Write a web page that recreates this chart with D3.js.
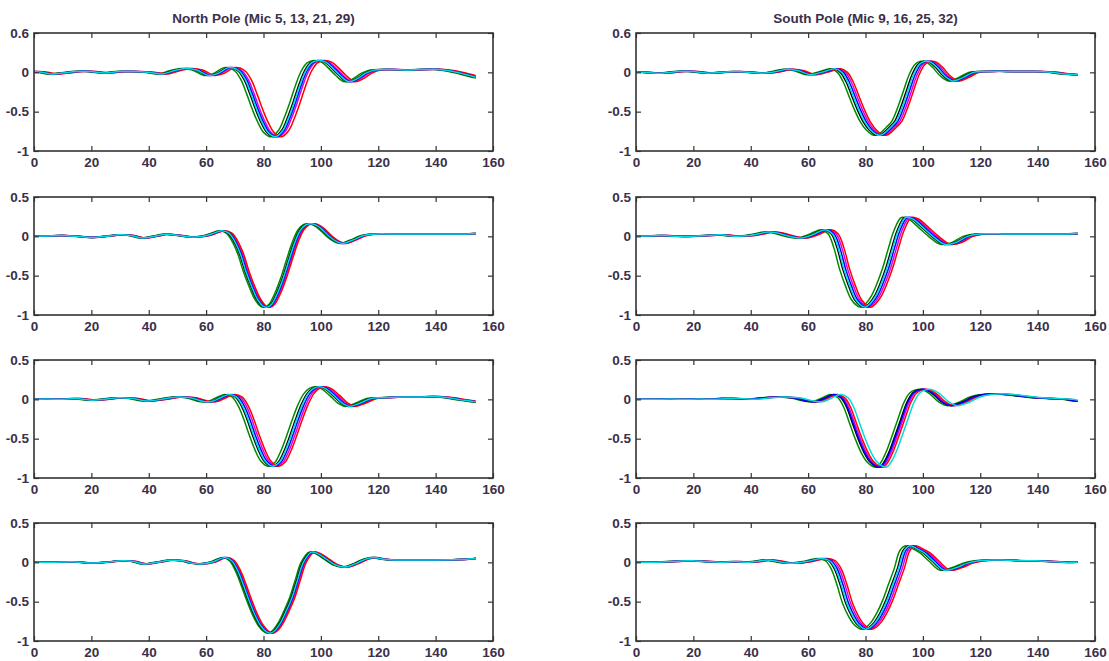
<!DOCTYPE html>
<html>
<head>
<meta charset="utf-8">
<script src="https://cdn.jsdelivr.net/npm/d3@7"></script>
<style>
  html, body { margin: 0; padding: 0; background: #ffffff; }
  svg { display: block; }
</style>
</head>
<body>
<svg id="chart" width="1109" height="661"></svg>
<script>
// ---------------- DATA ----------------
const northTitle = "North Pole (Mic 5, 13, 21, 29)";
const southTitle = "South Pole (Mic 9, 16, 25, 32)";

const xTickValues = [0, 20, 40, 60, 80, 100, 120, 140, 160];
const yTickValues = [0.5, 0, -0.5, -1];
const yTickLabelsTop = ["0.6", "0", "-0.5", "-1"];
const yTickLabels = ["0.5", "0", "-0.5", "-1"];

// trace colours (drawing order)
const traceColors = ["#008a00", "#000000", "#e000e0", "#ff0000", "#0000ff", "#00dcdc"];

// North pole, row 1
const n1X = [-4, 0, 3, 6, 10, 15, 20, 25, 30, 35, 40, 45, 49, 53, 57, 61, 64, 68, 70, 72, 74, 76, 78, 80, 82, 84.5, 87, 89, 91, 93, 95, 97, 99.5, 102, 104, 107, 110, 113, 116, 119, 125, 130, 135, 140, 145, 150, 154, 158];
const n1V = [0, 0.01, 0, -0.02, -0.01, 0.01, 0.01, -0.01, 0.01, 0.01, 0, -0.02, 0.02, 0.05, 0.03, -0.04, -0.02, 0.06, 0.055, 0.01, -0.1, -0.28, -0.48, -0.65, -0.77, -0.82, -0.74, -0.58, -0.38, -0.16, 0.02, 0.12, 0.15, 0.13, 0.07, -0.04, -0.12, -0.08, -0.01, 0.03, 0.035, 0.03, 0.035, 0.04, 0.02, -0.02, -0.06, -0.08];
const n1Delay = [-1.8, -0.7, 0.8, 1.8, 0.2, -0.3];

// North pole, row 2
const n2X = [-4, 0, 5, 10, 15, 20, 25, 30, 34, 38, 42, 46, 50, 55, 59, 62, 65.5, 68, 70, 72, 74, 76, 78, 80, 81.5, 83, 85, 87, 89, 91, 93, 95, 97, 99, 101, 104, 107.5, 111, 115, 120, 125, 130, 140, 150, 154, 158];
const n2V = [0, 0, 0.005, 0.01, 0.0, -0.015, 0.0, 0.02, 0.01, -0.02, 0.0, 0.025, 0.015, -0.01, 0.0, 0.03, 0.07, 0.04, -0.06, -0.22, -0.45, -0.64, -0.8, -0.89, -0.9, -0.86, -0.72, -0.53, -0.3, -0.08, 0.08, 0.15, 0.16, 0.13, 0.07, -0.03, -0.09, -0.05, 0.01, 0.03, 0.03, 0.03, 0.03, 0.03, 0.035, 0.035];
const n2Delay = [-1.0, -0.4, 0.6, 1.0, 0.2, -0.1];

// North pole, row 3
const n3X = [-4, 0, 5, 10, 15, 20, 25, 30, 35, 40, 45, 50, 55, 60, 63, 66, 68.5, 71, 73, 75, 77, 79, 81, 83.5, 86, 88, 90, 92, 94, 96, 98, 100, 102, 105, 108, 110.5, 114, 118, 122, 130, 135, 140, 145, 150, 154, 158];
const n3V = [0, 0, 0.005, 0.0, 0.01, -0.01, 0.0, 0.02, 0.01, -0.02, 0.0, 0.03, 0.02, -0.03, -0.02, 0.03, 0.06, 0.03, -0.07, -0.24, -0.45, -0.64, -0.78, -0.85, -0.8, -0.66, -0.47, -0.26, -0.07, 0.07, 0.14, 0.16, 0.14, 0.05, -0.05, -0.09, -0.05, 0.01, 0.02, 0.03, 0.03, 0.035, 0.02, -0.01, -0.03, -0.04];
const n3Delay = [-2.0, -0.9, 0.8, 1.5, 0.1, -0.5];

// North pole, row 4
const n4X = [-4, 0, 5, 10, 15, 20, 25, 31, 35, 38.5, 43, 47.5, 52, 55, 58, 62, 66.6, 69, 71, 73, 75, 77, 79, 81, 82.5, 84, 86, 88, 90, 92, 94, 96.8, 99, 102, 105, 108.4, 112, 115, 118.3, 122, 126, 130, 140, 148, 151, 154, 158];
const n4V = [0, 0, 0.0, 0.005, 0.005, -0.01, 0.0, 0.02, 0.01, -0.02, 0.0, 0.025, 0.02, -0.01, -0.02, 0.0, 0.06, 0.02, -0.1, -0.28, -0.48, -0.66, -0.8, -0.88, -0.9, -0.87, -0.77, -0.62, -0.45, -0.22, 0.0, 0.13, 0.11, 0.04, -0.03, -0.06, -0.02, 0.03, 0.06, 0.04, 0.03, 0.03, 0.03, 0.035, 0.04, 0.05, 0.06];
const n4Delay = [-0.9, -0.4, 0.5, 0.9, 0.15, -0.1];

// South pole, row 1
const s1X = [-4, 0, 5, 10, 15, 20, 25, 30, 35, 40, 45, 49, 53, 57, 61, 65, 69.7, 72, 74, 76, 78, 80, 82, 84, 85.5, 87, 89, 91, 93, 95, 97, 99, 101, 103, 105, 108, 110.8, 114, 118, 122, 126, 130, 135, 140, 145, 150, 154, 158];
const s1V = [0, 0.005, -0.005, -0.01, 0.01, 0.01, -0.01, 0.0, 0.01, 0.0, -0.01, 0.01, 0.04, 0.02, -0.03, 0.0, 0.045, 0.0, -0.12, -0.3, -0.48, -0.63, -0.73, -0.79, -0.8, -0.77, -0.7, -0.62, -0.45, -0.24, -0.03, 0.1, 0.14, 0.13, 0.07, -0.05, -0.11, -0.07, 0.0, 0.01, 0.015, 0.01, 0.01, 0.01, 0.0, -0.02, -0.03, -0.04];
const s1Delay = [-1.8, -0.8, 1.0, 1.7, 0.3, -0.3];

// South pole, row 2
const s2X = [-4, 0, 5, 10, 15, 20, 25, 30, 35, 40, 43, 46.7, 50, 54, 58.3, 62, 66.5, 69, 71, 73, 75, 77, 79, 80.5, 82, 84, 86, 88, 90, 92, 94.5, 97, 100, 104, 108, 112, 116, 120, 130, 140, 150, 154, 158];
const s2V = [0, 0, 0.005, 0.01, 0.0, 0.0, 0.01, 0.02, 0.0, 0.01, 0.03, 0.055, 0.04, 0.0, -0.02, 0.02, 0.085, 0.03, -0.15, -0.42, -0.63, -0.8, -0.88, -0.9, -0.86, -0.76, -0.6, -0.4, -0.15, 0.08, 0.24, 0.22, 0.13, 0.0, -0.1, -0.08, 0.0, 0.03, 0.03, 0.03, 0.03, 0.035, 0.04];
const s2Delay = [-2.0, -0.9, 0.8, 1.5, 0.1, -0.5];

// South pole, row 3
const s3X = [-4, 0, 5, 10, 15, 20, 25, 30, 35, 40, 45, 50, 55, 60, 63, 66, 69.5, 72, 74, 76, 78, 80, 82, 84, 85.5, 87, 89, 91, 93, 95, 97, 99, 101, 104, 107, 110, 114, 118, 122, 126, 130, 135, 140, 145, 150, 154, 158];
const s3V = [0, 0, 0.0, 0.005, 0.0, 0.005, 0.0, 0.01, 0.01, 0.0, 0.02, 0.03, 0.02, -0.02, -0.03, 0.01, 0.06, 0.02, -0.1, -0.3, -0.5, -0.67, -0.79, -0.85, -0.86, -0.8, -0.65, -0.45, -0.24, -0.04, 0.08, 0.12, 0.125, 0.07, -0.03, -0.08, -0.04, 0.03, 0.06, 0.07, 0.06, 0.04, 0.02, 0.01, 0.0, -0.02, -0.03];
const s3Delay = [-1.6, -0.6, 0.2, 0.8, -0.3, 1.9];

// South pole, row 4
const s4X = [-4, 0, 5, 10, 15, 20, 25, 30, 35, 40, 43, 46, 50, 53, 56, 60, 65.3, 68, 70, 72, 74, 76, 78, 80.5, 82, 84, 86, 88, 90, 92, 94, 96, 98, 101, 104, 108, 112, 116, 120, 125, 128, 135, 140, 145, 150, 154, 158];
const s4V = [0, 0, 0.0, 0.005, 0.015, 0.02, 0.01, 0.0, 0.01, 0.0, 0.015, 0.03, 0.01, -0.01, -0.01, 0.01, 0.05, 0.02, -0.08, -0.28, -0.52, -0.68, -0.79, -0.85, -0.83, -0.76, -0.64, -0.48, -0.28, -0.08, 0.15, 0.21, 0.18, 0.12, 0.02, -0.1, -0.07, -0.01, 0.02, 0.03, 0.03, 0.02, 0.02, 0.01, 0.0, 0.0, 0.0];
const s4Delay = [-2.0, -0.9, 0.8, 1.5, 0.1, -0.5];

// ---------------- LAYOUT ----------------
const colX = [34, 636];
const panelW = 459;
const rowTop = [33, 197, 360, 523];
const panelH = 118;
const xDomain = [0, 160];
const yDomain = [-1, 0.5];
const traceRange = [0, 154];

const textColor = "#3b2f4a";
const axisColor = "#333333";
const fontFamily = "'Liberation Sans', Arial, sans-serif";

const panels = [
  { col: 0, row: 0, xs: n1X, vs: n1V, delays: n1Delay },
  { col: 0, row: 1, xs: n2X, vs: n2V, delays: n2Delay },
  { col: 0, row: 2, xs: n3X, vs: n3V, delays: n3Delay },
  { col: 0, row: 3, xs: n4X, vs: n4V, delays: n4Delay },
  { col: 1, row: 0, xs: s1X, vs: s1V, delays: s1Delay },
  { col: 1, row: 1, xs: s2X, vs: s2V, delays: s2Delay },
  { col: 1, row: 2, xs: s3X, vs: s3V, delays: s3Delay },
  { col: 1, row: 3, xs: s4X, vs: s4V, delays: s4Delay }
];

const svg = d3.select("#chart");
const defs = svg.append("defs");

panels.forEach((p, i) => {
  const left = colX[p.col];
  const top = rowTop[p.row];
  const x = d3.scaleLinear().domain(xDomain).range([0, panelW]);
  const y = d3.scaleLinear().domain(yDomain).range([panelH, 0]);
  const g = svg.append("g").attr("transform", `translate(${left},${top})`);

  // clip traces to the recorded span
  defs.append("clipPath").attr("id", "clip" + i)
    .append("rect")
    .attr("x", x(traceRange[0])).attr("y", 0)
    .attr("width", x(traceRange[1]) - x(traceRange[0]))
    .attr("height", panelH);

  const traces = g.append("g").attr("clip-path", `url(#clip${i})`);
  const line = d3.line()
    .x(d => x(d[0]))
    .y(d => y(d[1]))
    .curve(d3.curveCatmullRom.alpha(0.5));

  p.delays.forEach((dl, k) => {
    const pts = p.xs.map((xv, j) => [xv + dl, p.vs[j]]);
    traces.append("path")
      .attr("d", line(pts))
      .attr("fill", "none")
      .attr("stroke", traceColors[k])
      .attr("stroke-width", 1.5)
      .attr("stroke-linejoin", "round");
  });

  // axes
  const labels = p.row === 0 ? yTickLabelsTop : yTickLabels;
  const xAxis = d3.axisBottom(x).tickValues(xTickValues).tickFormat(d3.format("d"))
    .tickSizeInner(-5).tickSizeOuter(0).tickPadding(6.5);
  const yAxis = d3.axisLeft(y).tickValues(yTickValues)
    .tickFormat((d, j) => labels[j]).tickSizeInner(-5).tickSizeOuter(0).tickPadding(5);
  const xTop = d3.axisTop(x).tickValues(xTickValues).tickFormat("").tickSizeInner(-5).tickSizeOuter(0);
  const yRight = d3.axisRight(y).tickValues(yTickValues).tickFormat("").tickSizeInner(-5).tickSizeOuter(0);

  const ax = [
    g.append("g").attr("transform", `translate(0,${panelH})`).call(xAxis),
    g.append("g").call(yAxis),
    g.append("g").call(xTop),
    g.append("g").attr("transform", `translate(${panelW},0)`).call(yRight)
  ];
  ax.forEach(a => {
    a.select(".domain").remove();
    a.selectAll(".tick line").attr("stroke", axisColor).attr("stroke-width", 1.2);
    a.selectAll(".tick text")
      .attr("fill", textColor)
      .style("font-family", fontFamily)
      .style("font-size", "13.5px")
      .style("font-weight", "bold");
  });

  g.append("rect")
    .attr("x", 0).attr("y", 0).attr("width", panelW).attr("height", panelH)
    .attr("fill", "none").attr("stroke", axisColor).attr("stroke-width", 1.6);

  if (p.row === 0) {
    g.append("text")
      .attr("x", panelW / 2).attr("y", -10.5)
      .attr("text-anchor", "middle")
      .attr("fill", textColor)
      .style("font-family", fontFamily)
      .style("font-size", "13.5px")
      .style("font-weight", "bold")
      .text(p.col === 0 ? northTitle : southTitle);
  }
});
</script>
</body>
</html>
